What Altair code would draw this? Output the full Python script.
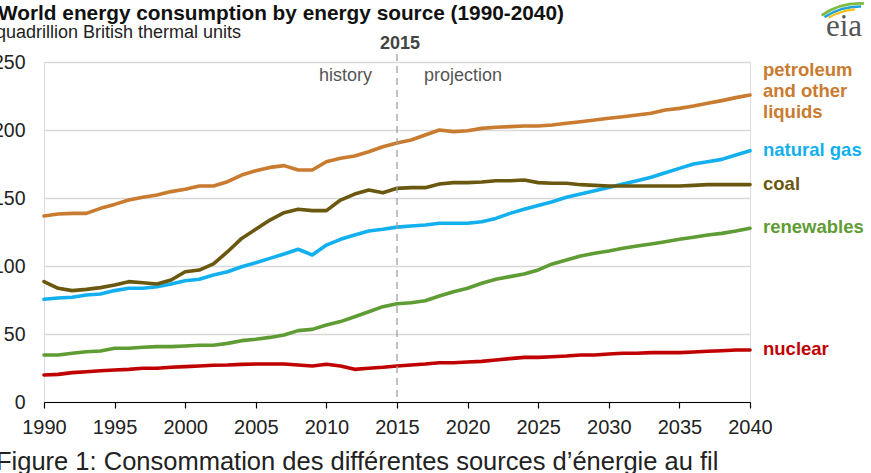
import altair as alt
import pandas as pd

years = list(range(1990, 2041))

petroleum = [136.8, 138.2, 138.7, 138.7, 142.4, 145.3, 148.5, 150.5, 152.2, 154.7,
             156.4, 158.8, 158.8, 162.0, 166.9, 170.1, 172.5, 173.8, 170.6, 170.6,
             176.7, 179.2, 180.9, 184.0, 187.7, 190.5,
             192.6, 196.3, 200.0, 198.8, 199.5, 201.2, 202.0, 202.5, 202.9, 202.9,
             203.7, 204.9, 206.1, 207.4, 208.6, 209.8, 211.0, 212.3, 214.7, 215.9,
             217.6, 219.6, 221.6, 223.8, 225.7]

natural_gas = [75.5, 76.5, 77.0, 78.7, 79.4, 81.9, 83.6, 83.6, 84.8, 86.8,
               89.2, 90.2, 93.4, 95.8, 99.5, 102.4, 105.6, 108.8, 112.3, 108.1,
               115.4, 119.6, 122.8, 125.7, 127.0, 128.6,
               129.4, 130.1, 131.4, 131.4, 131.4, 132.6, 135.0, 138.7, 141.7, 144.4,
               147.3, 150.5, 152.9, 155.4, 157.8, 160.3, 162.7, 165.2, 168.6, 171.8,
               175.0, 176.7, 178.4, 181.6, 184.8]

coal = [88.5, 83.6, 81.9, 82.8, 84.1, 86.0, 88.5, 87.7, 86.8, 89.7,
        95.8, 97.0, 101.5, 110.5, 120.3, 127.0, 133.8, 139.2, 141.7, 140.7,
        140.7, 148.5, 152.9, 155.9, 153.9, 157.1,
        157.6, 157.6, 160.3, 161.3, 161.3, 161.8, 162.7, 162.7, 163.2, 161.3,
        160.8, 160.8, 159.8, 159.3, 158.8, 158.8, 158.8, 158.8, 158.8, 158.8,
        159.3, 159.8, 159.8, 159.8, 159.8]

renewables = [34.6, 34.6, 35.8, 37.0, 37.5, 39.5, 39.5, 40.2, 40.7, 40.7,
              41.2, 41.7, 41.7, 43.1, 45.1, 46.1, 47.5, 49.3, 52.5, 53.4,
              56.6, 59.1, 62.7, 66.4, 70.1, 72.3,
              73.0, 74.5, 77.9, 81.1, 83.6, 87.3, 90.2, 92.2, 94.1, 97.1,
              101.5, 104.4, 107.4, 109.3, 111.0, 113.0, 114.7, 116.2, 117.9, 119.6,
              121.1, 122.8, 124.0, 125.7, 127.7]

nuclear = [19.9, 20.3, 21.6, 22.3, 23.0, 23.5, 24.0, 24.8, 24.8, 25.5,
           26.0, 26.5, 27.0, 27.2, 27.7, 27.9, 27.9, 27.9, 27.2, 26.5,
           27.7, 26.5, 24.0, 24.8, 25.5, 26.5,
           27.2, 27.9, 28.9, 28.9, 29.4, 29.9, 30.9, 31.9, 32.8, 32.8,
           33.3, 33.8, 34.6, 34.6, 35.3, 35.8, 35.8, 36.3, 36.3, 36.3,
           36.8, 37.3, 37.7, 38.2, 38.2]

sources = ["petroleum", "natural gas", "coal", "renewables", "nuclear"]
series = [petroleum, natural_gas, coal, renewables, nuclear]
line_colors = ["#C97B30", "#12B0EE", "#6A5810", "#5F9C34", "#C00000"]
label_colors = ["#D0823A", "#1FA6DE", "#6A5A18", "#64A03A", "#B02A3E"]
label_texts = [["petroleum", "and other", "liquids"], ["natural gas"], ["coal"], ["renewables"], ["nuclear"]]

x_ticks = [1990, 1995, 2000, 2005, 2010, 2015, 2020, 2025, 2030, 2035, 2040]
y_ticks = [0, 50, 100, 150, 200, 250]

title = "World energy consumption by energy source (1990-2040)"
subtitle = "quadrillion British thermal units"
caption = "Figure 1: Consommation des différentes sources d\u2019énergie au fil"

rows = []
for s, vals in zip(sources, series):
    for yr, v in zip(years, vals):
        rows.append({"year": yr, "value": v, "source": s})
df = pd.DataFrame(rows)

lab = pd.DataFrame({
    "source": sources,
    "text": label_texts,
    "year": [years[-1]] * len(sources),
    "value": [v[-1] for v in series],
})

FONT = "Liberation Sans"

xscale = alt.Scale(domain=[1990, 2040], nice=False, zero=False)
yscale = alt.Scale(domain=[0, 250], nice=False)
lab_color = alt.Color("source:N", scale=alt.Scale(domain=sources, range=label_colors), legend=None)

lines = alt.Chart(df).mark_line(strokeWidth=3.6, strokeCap="round", strokeJoin="round").encode(
    x=alt.X("year:Q", scale=xscale,
            axis=alt.Axis(values=x_ticks, format="d", title=None, grid=False,
                          domainColor="#000000", domainWidth=1.2, tickColor="#000000",
                          tickSize=6, tickWidth=1.2, labelFont=FONT, labelFontSize=20,
                          labelColor="#222222", labelPadding=9, labelFlush=False)),
    y=alt.Y("value:Q", scale=yscale,
            axis=alt.Axis(values=y_ticks, title=None, grid=True, gridColor="#D9D9D9",
                          gridWidth=1.5, domain=False, ticks=False, labelFont=FONT,
                          labelFontSize=19.5, labelColor="#222222", labelPadding=19)),
    color=alt.Color("source:N", scale=alt.Scale(domain=sources, range=line_colors), legend=None),
)

rule = alt.Chart(pd.DataFrame({"year": [2015]})).mark_rule(
    color="#A0A0A0", strokeDash=[7, 5], strokeWidth=1.3
).encode(x=alt.X("year:Q", scale=xscale), y=alt.value(-8), y2=alt.value(340))

labels_single = alt.Chart(lab).transform_filter(alt.datum.source != "petroleum").mark_text(
    align="left", baseline="middle", dx=13, dy=-1, font=FONT, fontSize=18.5, fontWeight="bold"
).encode(
    x=alt.X("year:Q", scale=xscale),
    y=alt.Y("value:Q", scale=yscale),
    text="text",
    color=lab_color,
)

labels_multi = alt.Chart(lab).transform_filter(alt.datum.source == "petroleum").mark_text(
    align="left", baseline="middle", dx=13, dy=-25, font=FONT, fontSize=18.5, fontWeight="bold",
    lineHeight=21
).encode(
    x=alt.X("year:Q", scale=xscale),
    y=alt.Y("value:Q", scale=yscale),
    text="text",
    color=lab_color,
)


def txt(s, x, y, size, weight="normal", color="#222222", align="left", font=FONT, baseline="middle"):
    return alt.Chart(pd.DataFrame({"t": [s]})).mark_text(
        align=align, baseline=baseline, fontSize=size, fontWeight=weight, color=color, font=font
    ).encode(text="t", x=alt.value(x), y=alt.value(y))


t_title = txt(title, -46, -48, 20.8, "bold", "#111111")
t_sub = txt(subtitle, -48, -29, 18, "normal", "#222222")
t_2015 = txt("2015", 356, -18, 18, "bold", "#444444", "center")
t_hist = txt("history", 328, 14, 18, "normal", "#555555", "right")
t_proj = txt("projection", 380, 14, 18, "normal", "#555555", "left")
t_cap = txt(caption, -48, 408, 25.5, "normal", "#222222", baseline="alphabetic")
t_eia = txt("eia", 800, -26, 31, "normal", "#555555", "center", "Liberation Serif", baseline="alphabetic")

arc_df = pd.DataFrame({"k": ["a"]})
arc_specs = [(69, 2.8, 5.68, 6.34, "#7DBB42"), (65.8, 2.6, 5.70, 6.30, "#1FA3DA"), (63, 2.2, 5.75, 6.20, "#F2C318")]
logo_arcs = [
    alt.Chart(arc_df).mark_arc(radius=r, radius2=r - w, theta=t1, theta2=t2, color=c).encode(
        x=alt.value(816), y=alt.value(9))
    for r, w, t1, t2, c in arc_specs
]

chart = alt.layer(lines, rule, labels_single, labels_multi, t_title, t_sub, t_2015, t_hist, t_proj,
                  t_cap, t_eia, *logo_arcs).properties(
    width=706, height=340,
    padding={"left": 44, "top": 62, "right": 121, "bottom": 71},
    autosize=alt.AutoSizeParams(type="none"),
).configure_view(stroke=None).configure(background="white")

chart.save("out.html", embed_options={"renderer": "svg", "actions": False})
